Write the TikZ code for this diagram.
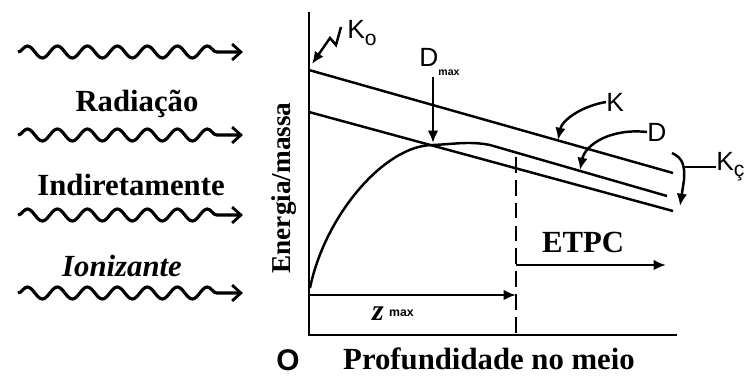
\documentclass[tikz,border=0pt]{standalone}
\usepackage{fontspec}
\setmainfont{Liberation Serif}
\setsansfont{Liberation Sans}
\usepackage{tikz}
\usetikzlibrary{arrows.meta, decorations.pathmorphing, positioning, calc}

\tikzset{
  wave/.style={line width=1.8pt, decorate, decoration={snake, segment length=0.6cm, amplitude=0.12cm, post length=0.25cm}, -{Straight Barb[length=5pt, width=9pt, line width=1.6pt]}},
  txt/.style={font=\fontsize{17.5}{20}\selectfont\bfseries, inner sep=0pt},
  sym/.style={font=\fontsize{15}{17}\selectfont\sffamily, inner sep=0pt},
  curve/.style={line width=1.4pt},
  pointer/.style={line width=1.4pt, -{Latex[length=7pt, width=6pt]}}
}

\begin{document}
\begin{tikzpicture}[x=0.02cm, y=-0.02cm]
  \useasboundingbox (0,0) rectangle (751,376);

  % incoming radiation
  \draw[wave] (18,52) -- (243,52);
  \draw[wave] (18,135) -- (243,135);
  \draw[wave] (18,215) -- (243,215);
  \draw[wave] (18,293) -- (243,293);
  \node[txt] (rad) at (137,104) {Radiação};
  \node[txt] (ind) at (131,185) {Indiretamente};
  \node[txt, font=\fontsize{17.5}{20}\selectfont\bfseries\itshape] (ion) at (122,266) {Ionizante};

  % axes
  \coordinate (o) at (309,335);
  \coordinate (ytop) at (309,12);
  \coordinate (xend) at (677,335);
  \draw[line width=1.7pt] (ytop) -- (o) -- (xend);
  \node[txt, font=\fontsize{15.5}{18}\selectfont\bfseries, rotate=90] (ylab) at (284,188) {Energia/massa};
  \node[txt, font=\fontsize{17}{20}\selectfont\sffamily\bfseries] (orig) at (288,360) {O};
  \node[txt] (xlab) at (489,359) {Profundidade no meio};

  % K, Kc and D
  \coordinate (k0) at (309,70);
  \coordinate (k1) at (673,173);
  \coordinate (kc0) at (309,112);
  \coordinate (kc1) at (673,211);
  \coordinate (d0) at (310,288);
  \coordinate (dmax) at (433,145);
  \coordinate (d1) at (667,196);
  \draw[curve] (k0) -- (k1);
  \draw[curve] (kc0) -- (kc1);
  \draw[curve] (d0) .. controls (325,215) and (385,145) .. (dmax)
    .. controls (455,144) and (470,141) .. (490,145) -- (d1);

  % equilibrium limit
  \coordinate (lim) at (516,157);
  \coordinate (limb) at (516,335);
  \draw[line width=1.3pt, dash pattern=on 9pt off 4pt] (lim) -- (limb);
  \coordinate (zs) at (309,295);
  \coordinate (ze) at (516,295);
  \draw[pointer] (zs) -- (ze);
  \node[inner sep=0pt] (zlab) at (393,314) {\fontsize{17}{20}\selectfont\bfseries\itshape z\hspace{3pt}\raisebox{0.3ex}{\fontsize{7}{8}\selectfont\sffamily\bfseries\upshape max}};
  \coordinate (es) at (516,265);
  \coordinate (ee) at (666,265);
  \draw[pointer] (es) -- (ee);
  \node[txt] (etpc) at (583,242) {ETPC};

  % labels
  \node[sym, anchor=west] (k0lab) at (347,33) {K\raisebox{-0.45ex}{\fontsize{12}{14}\selectfont o}};
  \draw[line width=1.4pt, -{Latex[length=7pt, width=6pt]}] (341,27) -- (336,45) -- (330,38) -- (312,64);
  \node[sym, anchor=west] (dmlab) at (419,62) {D\raisebox{-0.7ex}{\fontsize{6}{7}\selectfont\bfseries max}};
  \coordinate (dtop) at (433,77);
  \draw[pointer] (dtop) -- ($(dmax)+(0,-2)$);
  \node[sym, anchor=west] (klab) at (606,102) {K};
  \coordinate (kpt) at (558,140);
  \draw[pointer] (klab.west) .. controls (582,106) and (562,120) .. (kpt);
  \node[sym, anchor=west] (dlab) at (647,132) {D};
  \coordinate (dpt) at (580,170);
  \draw[pointer] (dlab.west) .. controls (610,128) and (585,145) .. (dpt);
  \node[sym, anchor=west] (kclab) at (716,167) {K\raisebox{-0.45ex}{\fontsize{12}{14}\selectfont ç}};
  \coordinate (kcpt) at (680,206);
  \draw[line width=1.4pt] (kclab.west) -- (684,167);
  \draw[pointer] (672,153) .. controls (683,158) and (685,166) .. (684,180) -- (kcpt);
\end{tikzpicture}
\end{document}
